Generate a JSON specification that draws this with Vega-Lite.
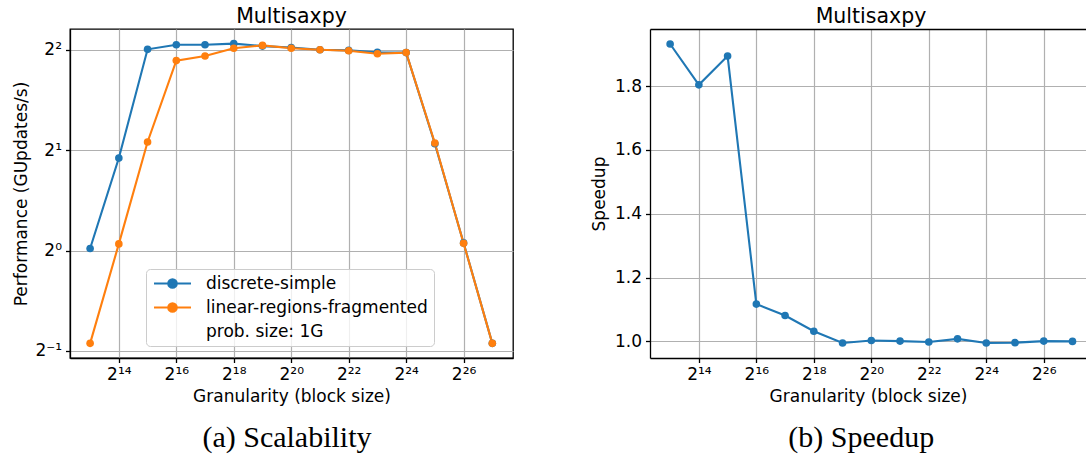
{
  "$schema": "https://vega.github.io/schema/vega-lite/v6.json",
  "padding": {"left": 12, "top": 5, "right": 0, "bottom": 0},
  "background": "white",
  "config": {
    "font": "DejaVu Sans",
    "view": {"stroke": null},
    "axis": {
      "labelFont": "DejaVu Sans", "labelFontSize": 17, "labelColor": "black",
      "titleFont": "DejaVu Sans", "titleFontSize": 17, "titleFontWeight": "normal", "titleColor": "black",
      "domainColor": "black", "domainWidth": 1.3, "tickColor": "black", "tickSize": 4.5, "tickWidth": 1.3,
      "gridColor": "#b0b0b0", "gridWidth": 1.2, "labelPadding": 4, "titlePadding": 6
    },
    "axisY": {"titlePadding": 4},
    "title": {"font": "DejaVu Sans", "fontSize": 20.5, "fontWeight": "normal", "color": "black"},
    "concat": {"spacing": 76}
  },
  "datasets": {
    "perf": [
      {"block_size": 8192, "series": "discrete-simple", "performance": 1.014},
      {"block_size": 16384, "series": "discrete-simple", "performance": 1.893},
      {"block_size": 32768, "series": "discrete-simple", "performance": 4.01},
      {"block_size": 65536, "series": "discrete-simple", "performance": 4.14},
      {"block_size": 131072, "series": "discrete-simple", "performance": 4.14},
      {"block_size": 262144, "series": "discrete-simple", "performance": 4.17},
      {"block_size": 524288, "series": "discrete-simple", "performance": 4.10},
      {"block_size": 1048576, "series": "discrete-simple", "performance": 4.06},
      {"block_size": 2097152, "series": "discrete-simple", "performance": 4.00},
      {"block_size": 4194304, "series": "discrete-simple", "performance": 3.98},
      {"block_size": 8388608, "series": "discrete-simple", "performance": 3.93},
      {"block_size": 16777216, "series": "discrete-simple", "performance": 3.92},
      {"block_size": 33554432, "series": "discrete-simple", "performance": 2.09},
      {"block_size": 67108864, "series": "discrete-simple", "performance": 1.054},
      {"block_size": 134217728, "series": "discrete-simple", "performance": 0.527},
      {"block_size": 8192, "series": "linear-regions-fragmented", "performance": 0.527},
      {"block_size": 16384, "series": "linear-regions-fragmented", "performance": 1.047},
      {"block_size": 32768, "series": "linear-regions-fragmented", "performance": 2.115},
      {"block_size": 65536, "series": "linear-regions-fragmented", "performance": 3.71},
      {"block_size": 131072, "series": "linear-regions-fragmented", "performance": 3.83},
      {"block_size": 262144, "series": "linear-regions-fragmented", "performance": 4.04},
      {"block_size": 524288, "series": "linear-regions-fragmented", "performance": 4.12},
      {"block_size": 1048576, "series": "linear-regions-fragmented", "performance": 4.04},
      {"block_size": 2097152, "series": "linear-regions-fragmented", "performance": 4.00},
      {"block_size": 4194304, "series": "linear-regions-fragmented", "performance": 3.97},
      {"block_size": 8388608, "series": "linear-regions-fragmented", "performance": 3.89},
      {"block_size": 16777216, "series": "linear-regions-fragmented", "performance": 3.92},
      {"block_size": 33554432, "series": "linear-regions-fragmented", "performance": 2.10},
      {"block_size": 67108864, "series": "linear-regions-fragmented", "performance": 1.052},
      {"block_size": 134217728, "series": "linear-regions-fragmented", "performance": 0.527}
    ],
    "speedup": [
      {"block_size": 8192, "speedup": 1.932},
      {"block_size": 16384, "speedup": 1.804},
      {"block_size": 32768, "speedup": 1.894},
      {"block_size": 65536, "speedup": 1.117},
      {"block_size": 131072, "speedup": 1.081},
      {"block_size": 262144, "speedup": 1.032},
      {"block_size": 524288, "speedup": 0.995},
      {"block_size": 1048576, "speedup": 1.003},
      {"block_size": 2097152, "speedup": 1.001},
      {"block_size": 4194304, "speedup": 0.998},
      {"block_size": 8388608, "speedup": 1.008},
      {"block_size": 16777216, "speedup": 0.995},
      {"block_size": 33554432, "speedup": 0.996},
      {"block_size": 67108864, "speedup": 1.001},
      {"block_size": 134217728, "speedup": 1.000}
    ]
  },
  "resolve": {"scale": {"color": "independent"}},
  "hconcat": [
    {
      "title": {"text": "(a) Scalability", "orient": "bottom", "anchor": "middle", "font": "Liberation Serif", "fontSize": 30, "fontWeight": "normal", "baseline": "alphabetic", "offset": 42, "dx": 24},
      "vconcat": [
        {
          "width": 443,
          "height": 329,
          "title": {"text": "Multisaxpy", "offset": 2},
          "view": {"stroke": "black", "strokeWidth": 1.3},
          "data": {"name": "perf"},
          "mark": {"type": "line", "strokeWidth": 2.1, "point": {"filled": true, "size": 58, "opacity": 1}},
          "encoding": {
            "x": {
              "field": "block_size", "type": "quantitative",
              "scale": {"type": "log", "base": 2, "domain": [5042.7, 221080000], "nice": false},
              "axis": {
                "values": [16384, 65536, 262144, 1048576, 4194304, 16777216, 67108864],
                "labelExpr": "'2' + ['⁰','¹','²','³','⁴','⁵','⁶','⁷','⁸','⁹'][floor(round(log(datum.value)/LN2)/10)] + ['⁰','¹','²','³','⁴','⁵','⁶','⁷','⁸','⁹'][round(log(datum.value)/LN2)%10]",
                "title": "Granularity (block size)", "grid": true
              }
            },
            "y": {
              "field": "performance", "type": "quantitative",
              "scale": {"type": "log", "base": 2, "domain": [0.4763, 4.614], "nice": false},
              "axis": {
                "values": [0.5, 1, 2, 4],
                "labelExpr": "'2' + (round(log(datum.value)/LN2) < 0 ? '⁻' : '') + ['⁰','¹','²','³','⁴','⁵','⁶','⁷','⁸','⁹'][abs(round(log(datum.value)/LN2))]",
                "title": "Performance (GUpdates/s)", "grid": true
              }
            },
            "color": {
              "field": "series", "type": "nominal",
              "scale": {"domain": ["discrete-simple", "linear-regions-fragmented", "prob. size: 1G"], "range": ["#1f77b4", "#ff7f0e", "rgba(0,0,0,0)"]},
              "legend": {
                "title": null, "orient": "none", "legendX": 76, "legendY": 240,
                "symbolType": "M-3.08,0H3.08M0.71,0A0.71,0.71,0,1,1,-0.71,0A0.71,0.71,0,1,1,0.71,0Z",
                "symbolSize": 144, "symbolStrokeWidth": 2.1, "symbolOffset": 12, "labelOffset": 25,
                "labelFontSize": 17, "labelFont": "DejaVu Sans", "labelColor": "black", "labelLimit": 400,
                "padding": 6, "rowPadding": 6, "strokeColor": "#cccccc", "fillColor": "rgba(255,255,255,0.8)", "cornerRadius": 4,
                "encode": {"symbols": {"update": {"fill": {"scale": "color", "field": "value"}, "stroke": {"scale": "color", "field": "value"}, "opacity": {"value": 1}}}}
              }
            }
          }
        }
      ]
    },
    {
      "title": {"text": "(b) Speedup", "orient": "bottom", "anchor": "middle", "font": "Liberation Serif", "fontSize": 30, "fontWeight": "normal", "baseline": "alphabetic", "offset": 42, "dx": 23},
      "vconcat": [
        {
          "width": 436,
          "height": 329,
          "title": {"text": "Multisaxpy", "offset": 2, "dx": 3},
          "data": {"name": "speedup"},
          "mark": {"type": "line", "color": "#1f77b4", "strokeWidth": 2.1, "point": {"filled": true, "size": 58, "color": "#1f77b4", "opacity": 1}},
          "encoding": {
            "x": {
              "field": "block_size", "type": "quantitative",
              "scale": {"type": "log", "base": 2, "domain": [5042.7, 185910000], "nice": false},
              "axis": {
                "values": [16384, 65536, 262144, 1048576, 4194304, 16777216, 67108864],
                "labelExpr": "'2' + ['⁰','¹','²','³','⁴','⁵','⁶','⁷','⁸','⁹'][floor(round(log(datum.value)/LN2)/10)] + ['⁰','¹','²','³','⁴','⁵','⁶','⁷','⁸','⁹'][round(log(datum.value)/LN2)%10]",
                "title": "Granularity (block size)", "grid": true
              }
            },
            "y": {
              "field": "speedup", "type": "quantitative",
              "scale": {"domain": [0.948, 1.979], "nice": false, "zero": false},
              "axis": {
                "values": [1.0, 1.2, 1.4, 1.6, 1.8, 1.979],
                "labelExpr": "datum.value > 1.9 ? '' : format(datum.value, '.1f')",
                "title": "Speedup", "grid": true, "titlePadding": 6,
                "gridColor": {"condition": {"test": "datum.value > 1.9", "value": "black"}, "value": "#b0b0b0"},
                "gridWidth": {"condition": {"test": "datum.value > 1.9", "value": 1.3}, "value": 1.2},
                "tickOpacity": {"condition": {"test": "datum.value > 1.9", "value": 0}, "value": 1}
              }
            }
          }
        }
      ]
    }
  ]
}
